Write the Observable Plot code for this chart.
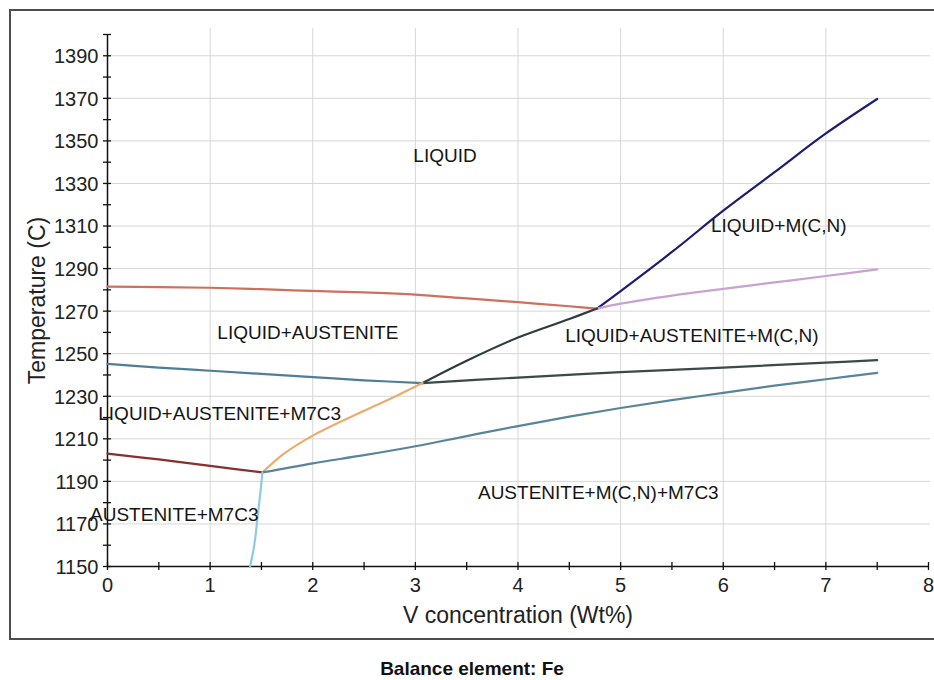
<!DOCTYPE html>
<html>
<head>
<meta charset="utf-8">
<script src="https://cdn.jsdelivr.net/npm/d3@7"></script>
<script src="https://cdn.jsdelivr.net/npm/@observablehq/plot@0.6"></script>
<style>
  html, body { margin: 0; padding: 0; background: #fff; overflow: hidden; width: 934px; height: 680px; }
  #wrap { position: relative; width: 934px; height: 680px; font-family: "Liberation Sans", Arial, sans-serif; }
  #box { position: absolute; left: 9px; top: 9px; width: 1000px; height: 627px; border: 2px solid #4d4d4d; pointer-events: none; }
  #caption { position: absolute; left: 0; width: 944px; top: 659px; text-align: center; font-weight: bold; font-size: 19px; line-height: 19px; color: #111; }
</style>
</head>
<body>
<div id="wrap">
  <div id="chart"></div>
  <div id="box"></div>
  <div id="caption">Balance element: Fe</div>
</div>
<script>
// Phase boundaries of the Fe–V–C(N) isopleth: [V wt%, temperature °C]
const liquidus = [[0, 1281.5], [0.5, 1281.3], [1, 1281], [1.5, 1280.3], [2, 1279.5], [2.5, 1278.8], [3, 1277.8], [3.5, 1276], [4, 1274.2], [4.5, 1272.3], [4.77, 1271.2]];
const mcnLiquidus = [[4.77, 1271.2], [5, 1279.4], [5.5, 1297.8], [6, 1317.2], [6.5, 1335.3], [7, 1353.5], [7.5, 1369.7]];
const austeniteMcnUpper = [[4.77, 1271.2], [5, 1273.5], [5.5, 1277.3], [6, 1280.5], [6.5, 1283.5], [7, 1286.5], [7.5, 1289.6]];
const m7c3Start = [[0, 1245.2], [0.5, 1243.5], [1, 1242], [1.5, 1240.5], [2, 1239], [2.5, 1237.5], [3.07, 1236.2]];
const mcnFromEutectic = [[3.07, 1236.2], [3.5, 1246.7], [4, 1257.6], [4.5, 1266.3], [4.77, 1271.2]];
const liquidEndMcn = [[3.07, 1236.2], [4, 1238.8], [5, 1241.3], [6, 1243.5], [7, 1245.8], [7.5, 1247]];
const liquidEndM7c3 = [[1.51, 1194.2], [1.72, 1203], [2, 1211.5], [2.37, 1220.3], [2.73, 1228.2], [3.07, 1236.2]];
const mcnSolvus = [[1.51, 1194.2], [2, 1198.5], [2.5, 1202.3], [3, 1206.5], [3.5, 1211.3], [4, 1216], [4.5, 1220.4], [5, 1224.5], [5.5, 1228.2], [6, 1231.6], [6.5, 1235], [7, 1238], [7.5, 1241]];
const solidus = [[0, 1203], [0.5, 1200.3], [1, 1197.3], [1.51, 1194.2]];
const mcnLowerSolvus = [[1.51, 1194.2], [1.49, 1185], [1.46, 1172], [1.43, 1160], [1.39, 1150]];

// Region names and where they sit (V wt%, °C)
const phaseNames = ["LIQUID", "LIQUID+M(C,N)", "LIQUID+AUSTENITE", "LIQUID+AUSTENITE+M(C,N)", "LIQUID+AUSTENITE+M7C3", "AUSTENITE+M7C3", "AUSTENITE+M(C,N)+M7C3"];
const phaseX = [2.98, 5.88, 1.07, 4.46, -0.09, -0.17, 3.61];
const phaseT = [1343, 1310, 1259.8, 1258.3, 1221.7, 1174.4, 1184.7];

// Axis ticks
const xTickLabels = [0, 1, 2, 3, 4, 5, 6, 7, 8];
const yTickLabels = [1150, 1170, 1190, 1210, 1230, 1250, 1270, 1290, 1310, 1330, 1350, 1370, 1390];
const xGrid = [1, 2, 3, 4, 5, 6, 7];
const yGrid = [1170, 1190, 1210, 1230, 1250, 1270, 1290, 1310, 1330, 1350, 1370, 1390];
const xMinor = d3.range(0, 8.01, 0.5);
const yMinor = d3.range(1150, 1401, 10);

const curves = [
  [liquidus, "#cd705e"],
  [mcnLiquidus, "#1e1d6e"],
  [austeniteMcnUpper, "#c9a2d2"],
  [m7c3Start, "#4f7e96"],
  [mcnFromEutectic, "#2f3c3c"],
  [liquidEndMcn, "#3a4949"],
  [liquidEndM7c3, "#e9ad6e"],
  [mcnSolvus, "#5a8599"],
  [solidus, "#8a2e2e"],
  [mcnLowerSolvus, "#8fcadf"]
];

const W = 934, H = 648;
const mL = 107, mR = 6, mT = 34, mB = 82;
const plotW = W - mL - mR, plotH = H - mT - mB;
const font = '"Liberation Sans", Arial, sans-serif';

const chart = Plot.plot({
  width: W,
  height: H,
  marginLeft: mL,
  marginRight: mR,
  marginTop: mT,
  marginBottom: mB,
  style: { fontFamily: font, background: "transparent", overflow: "visible" },
  x: { domain: [0, 8], axis: null },
  y: { domain: [1150, 1400], axis: null },
  marks: [
    // light grid
    Plot.ruleY(yGrid, { stroke: "#d6d6d6", strokeWidth: 1, insetRight: -2 }),
    Plot.ruleX(xGrid, { stroke: "#d6d6d6", strokeWidth: 1, insetTop: -6 }),
    // axis lines
    Plot.ruleX([0], { y1: 1150, y2: 1400, stroke: "#111", strokeWidth: 1.5 }),
    Plot.ruleY([1150], { x1: 0, x2: 8, stroke: "#111", strokeWidth: 1.7 }),
    // crossing tick marks
    Plot.tickY(yMinor, { y: d => d, stroke: "#111", strokeWidth: 1.3, insetLeft: -4, insetRight: plotW - 4 }),
    Plot.tickX(xMinor, { x: d => d, stroke: "#111", strokeWidth: 1.3, insetTop: plotH - 4, insetBottom: -4 }),
    // tick labels
    Plot.text(yTickLabels, { x: 0, y: d => d, text: d => String(d), textAnchor: "end", dx: -9, dy: 1, fontSize: 20, fill: "#222" }),
    Plot.text(xTickLabels, { x: d => d, y: 1150, text: d => String(d), lineAnchor: "top", dy: 11, fontSize: 20, fill: "#222" }),
    // phase boundaries
    ...curves.map(([pts, color]) =>
      Plot.line(pts, { x: d => d[0], y: d => d[1], stroke: color, strokeWidth: 2.2, curve: "catmull-rom" })
    ),
    // region labels
    Plot.text(phaseNames, { x: (d, i) => phaseX[i], y: (d, i) => phaseT[i], text: d => d, textAnchor: "start", fontSize: 19, fill: "#151515" }),
    // axis titles
    Plot.text(["Temperature (C)"], { frameAnchor: "left", dx: -70, rotate: -90, textAnchor: "middle", lineAnchor: "middle", text: d => d, fontSize: 23, fill: "#222" }),
    Plot.text(["V concentration (Wt%)"], { frameAnchor: "bottom", dy: 49, textAnchor: "middle", lineAnchor: "middle", text: d => d, fontSize: 23, fill: "#222" })
  ]
});

document.getElementById("chart").appendChild(chart);
</script>
</body>
</html>
